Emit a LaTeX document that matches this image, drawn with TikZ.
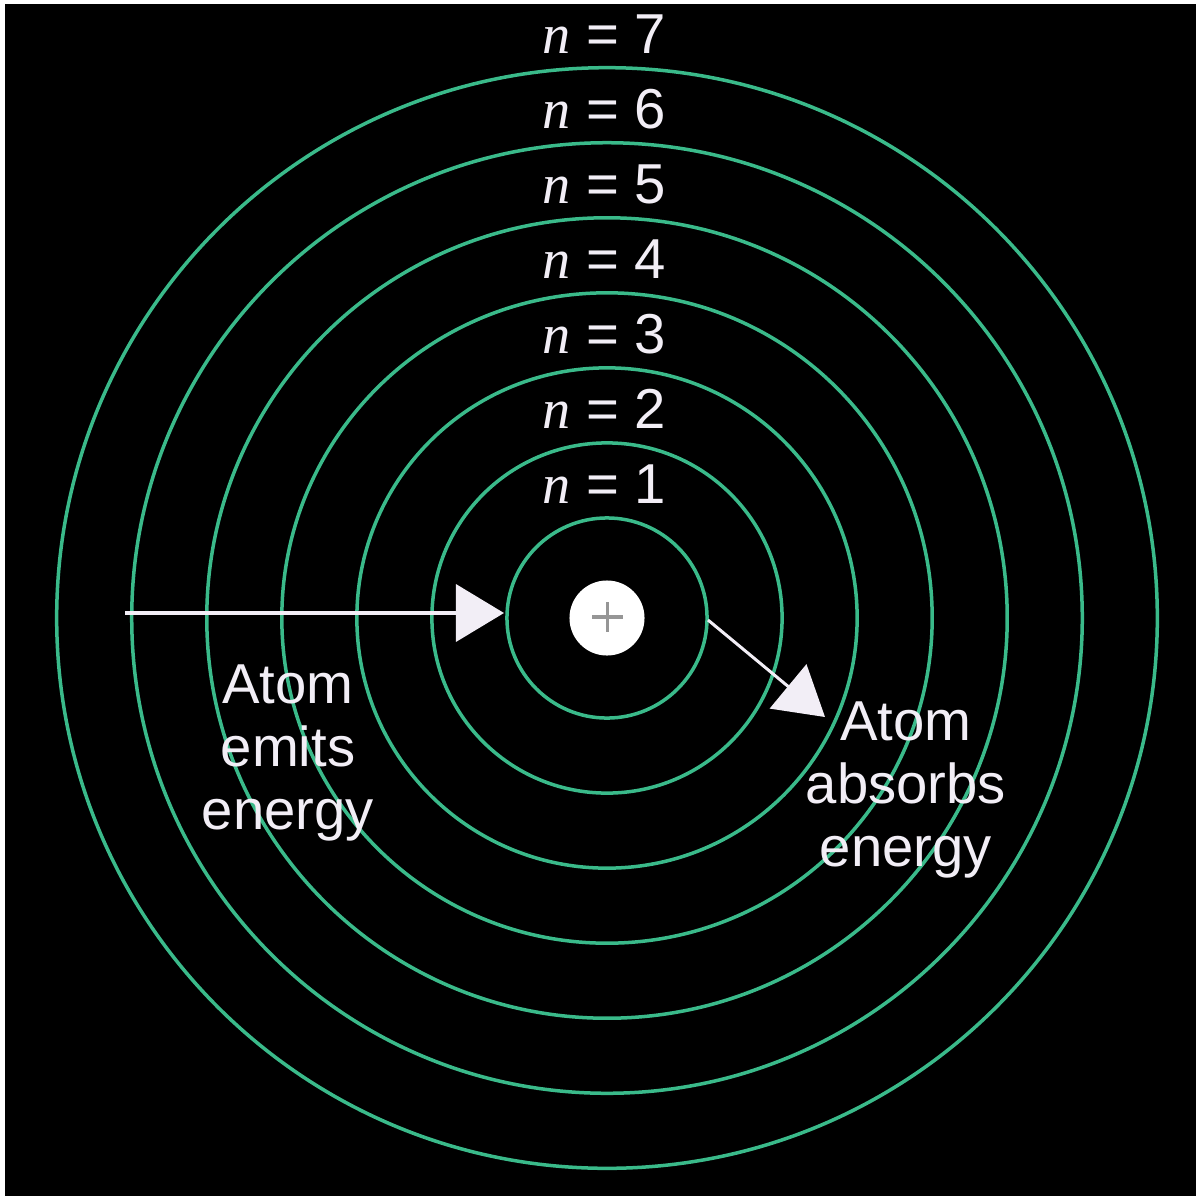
\documentclass[tikz,border=0pt]{standalone}
\usepackage{fontspec}
\setmainfont{Liberation Sans}
\newfontfamily\serifit{Liberation Serif}
\usetikzlibrary{arrows.meta}
\definecolor{orbit}{RGB}{58,186,138}
\definecolor{txt}{RGB}{242,238,246}
\definecolor{plusgray}{RGB}{150,150,150}
\tikzset{
  orbitline/.style={draw=orbit, line width=0.035cm},
  nlabel/.style={text=txt, anchor=base, inner sep=0pt, font=\fontsize{16}{18}\selectfont},
  note/.style={text=txt, anchor=base, inner sep=0pt, align=center, font=\fontsize{16}{17.9}\selectfont},
  jump/.style={draw=txt, line width=0.035cm, -{Triangle[length=0.48cm,width=0.57cm]}, fill=txt}
}
\newcommand{\nlab}[1]{{\serifit\itshape n} = #1}
\begin{document}
\begin{tikzpicture}[x=0.01cm,y=-0.01cm]
  \useasboundingbox (0,0) rectangle (1200,1200);
  \fill[white] (0,0) rectangle (1200,1200);
  \fill[black] (5,4) rectangle (1196,1196);
  \coordinate (c) at (607,618);
  \foreach \r in {1.00,1.75,2.50,3.25,4.00,4.75,5.50}
    \draw[orbitline] (c) circle[radius=\r cm];
  % labels
  \node[nlabel] (n1) at (604,503) {\nlab{1}};
  \node[nlabel] (n2) at (604,428) {\nlab{2}};
  \node[nlabel] (n3) at (604,353) {\nlab{3}};
  \node[nlabel] (n4) at (604,278) {\nlab{4}};
  \node[nlabel] (n5) at (604,203) {\nlab{5}};
  \node[nlabel] (n6) at (604,128) {\nlab{6}};
  \node[nlabel] (n7) at (604,53) {\nlab{7}};
  % nucleus
  \node[circle, fill=white, minimum size=0.75cm, inner sep=0pt] (nuc) at (607,618) {};
  \draw[plusgray, line width=0.035cm] (592,617) -- (623,617) (607.5,602) -- (607.5,632);
  % arrows
  \coordinate (e6) at (125,613);
  \coordinate (e1) at (504,613);
  \coordinate (a1) at (708,620);
  \coordinate (a3) at (825,717);
  \draw[jump] (e6) -- (e1);
  \draw[jump, line width=0.03cm] (a1) -- (a3);
  % texts
  \node[note] (emit) at (288,829) {Atom\\emits\\energy};
  \node[note] (absorb) at (906,866) {Atom\\absorbs\\energy};
\end{tikzpicture}
\end{document}
